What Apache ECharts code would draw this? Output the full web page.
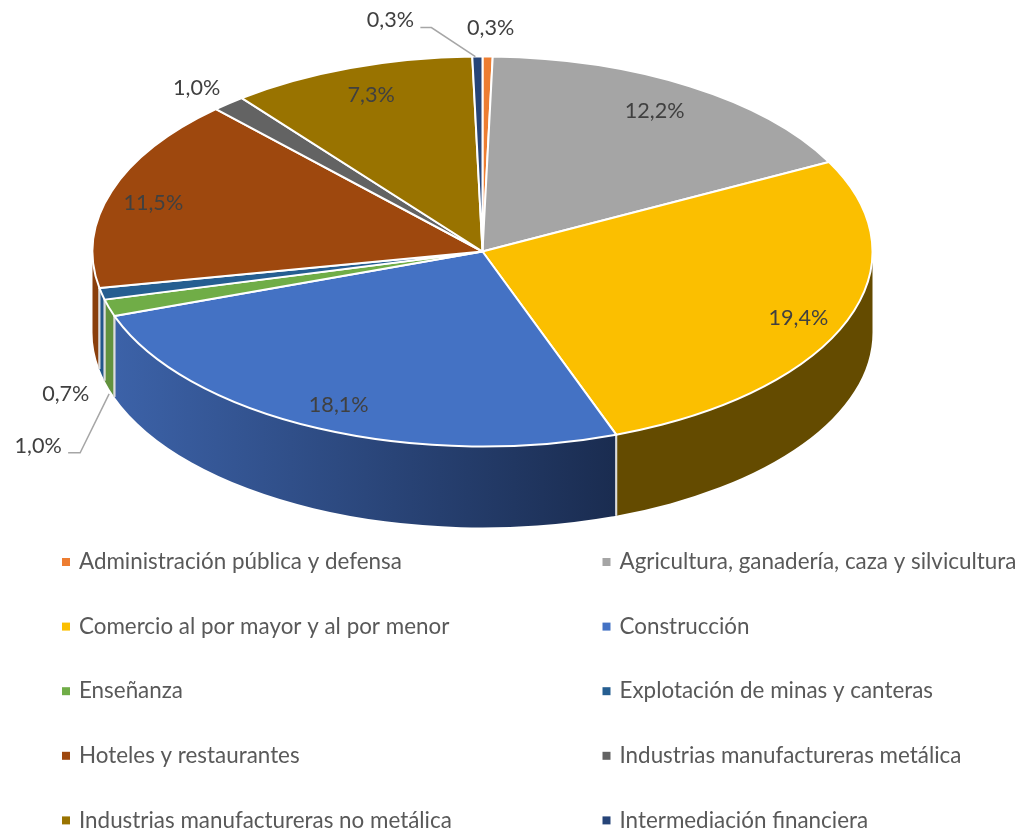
<!DOCTYPE html>
<html><head><meta charset="utf-8">
<style>html,body{margin:0;padding:0;background:#fff}#c{width:1021px;height:832px}</style>
<script src="https://cdn.jsdelivr.net/npm/echarts@6/dist/echarts.min.js"></script>
</head><body><div id="c"></div>
<script>
const categories = ["Administración pública y defensa","Agricultura, ganadería, caza y silvicultura","Comercio al por mayor y al por menor","Construcción","Enseñanza","Explotación de minas y canteras","Hoteles y restaurantes","Industrias manufactureras metálica","Industrias manufactureras no metálica","Intermediación financiera"];
const values = [0.3,12.2,19.4,18.1,1.0,0.7,11.5,1.0,7.3,0.3];
const topColors = ["#ED7D31","#A5A5A5","#FBBF00","#4472C4","#70AD47","#255E91","#9E480E","#636363","#997300","#264478"];
const wallColors = ["#B25E25","#7C7C7C","#644B00","#3C62A8","#62923E","#22568A","#8A3F0C","#4A4A4A","#735600","#1C3359"];

const CX=482.5, CY=251.5, RX=390, RY=195, DEPTH=81;
const total=values.reduce((a,b)=>a+b,0);
let run=0;
const starts=values.map(v=>{const s=run;run+=v;return s;});
const labelRadial=[1,.85,.85,.85,1,1,.85,1,.85,1];
const labelNudge=[[3,-28],[-4,0],[7,6],[-2,4],[-71,138],[-36,100],[-14,3],[-32,-15],[1,-1],[-87,-36]];
const leaderElbow={4:[[30,7],[42,7]],9:[[30,7],[41,7]]};
const leaderEndOffset={4:[0,86],9:[-2,0]};

const pt=(a,k=1,dy=0)=>[CX+RX*k*Math.sin(a),CY-RY*k*Math.cos(a)+dy];
function arc(a,large,sweep,dy){const p=pt(a,1,dy);return `A${RX} ${RY} 0 ${large} ${sweep} ${p[0]} ${p[1]}`;}

function renderSlice(i){return function(params,api){
  const v=api.value(0);
  const a1=starts[i]/total*2*Math.PI, a2=(starts[i]+v)/total*2*Math.PI;
  const children=[];
  const lo=Math.max(a1,Math.PI/2), hi=Math.min(a2,1.5*Math.PI);
  if(hi>lo){
    const p=pt(lo), q=pt(hi,1,DEPTH);
    const fill=i===3?new echarts.graphic.LinearGradient(0,0,1,0,[{offset:0,color:"#3C62A8"},{offset:1,color:"#1A2C50"}]):wallColors[i];
    children.push({type:'path',z2:1,shape:{pathData:`M${p[0]} ${p[1]}${arc(hi,0,1,0)}L${q[0]} ${q[1]}${arc(lo,0,0,DEPTH)}Z`},style:{fill,stroke:null}});
    [a1,a2].forEach(a=>{ if(a>=Math.PI/2&&a<=1.5*Math.PI){
      const t=pt(a),b=pt(a,1,DEPTH);
      children.push({type:'line',z2:2,shape:{x1:t[0],y1:t[1],x2:b[0],y2:b[1]},style:{stroke:'#DCDCDC',lineWidth:1.8}});
    }});
  }
  const s=pt(a1), large=(a2-a1)>Math.PI?1:0;
  children.push({type:'path',z2:3,shape:{pathData:`M${CX} ${CY}L${s[0]} ${s[1]}${arc(a2,large,1,0)}Z`},style:{fill:topColors[i],stroke:'#fff',lineWidth:2,lineJoin:'round'}});
  const mid=(a1+a2)/2, r=pt(mid,labelRadial[i]);
  const lx=r[0]+labelNudge[i][0], ly=r[1]+labelNudge[i][1];
  if(leaderElbow[i]){
    const rim=pt(mid), E=leaderElbow[i], O=leaderEndOffset[i];
    children.push({type:'polyline',z2:4,shape:{points:[[lx+E[0][0],ly+E[0][1]],[lx+E[1][0],ly+E[1][1]],[rim[0]+O[0],rim[1]+O[1]]]},style:{stroke:'#A6A6A6',lineWidth:1.5,fill:null}});
  }
  children.push({type:'text',z2:5,style:{text:v.toFixed(1).replace('.',',')+'%',x:lx,y:ly,align:'center',verticalAlign:'middle',font:'21.6px Lato, sans-serif',fill:'#404040'}});
  return {type:'group',children};
};}

const series=categories.map((name,i)=>({
  type:'custom',name,coordinateSystem:'none',animation:false,silent:true,
  itemStyle:{color:topColors[i]},data:[[values[i]]],renderItem:renderSlice(i)
}));
const legendBase={orient:'vertical',top:545,height:287,icon:'rect',itemWidth:8,itemHeight:8,itemGap:40.6,selectedMode:false,
  textStyle:{fontFamily:'Lato',fontSize:22.4,color:'#595959',lineHeight:24,padding:[0,0,0,4]}};
echarts.init(document.getElementById('c'),null,{renderer:'canvas'}).setOption({
  animation:false,backgroundColor:'#fff',
  legend:[
    Object.assign({},legendBase,{left:57,data:categories.filter((c,i)=>i%2===0)}),
    Object.assign({},legendBase,{left:597.5,data:categories.filter((c,i)=>i%2===1)})
  ],
  series
});
</script></body></html>
